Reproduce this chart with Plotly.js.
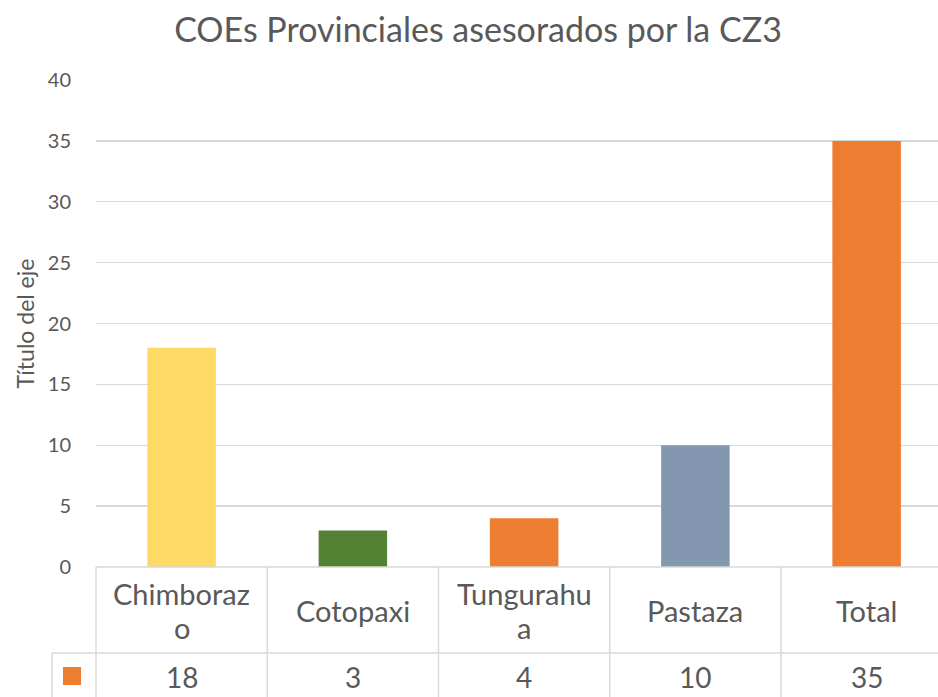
<!DOCTYPE html>
<html>
<head>
<meta charset="utf-8">
<script src="https://cdn.plot.ly/plotly-3.0.1.min.js"></script>
<style>html,body{margin:0;padding:0;background:#fff;}#chart{width:938px;height:697px;}</style>
</head>
<body>
<div id="chart"></div>
<script>
// Data
const categories = ["Chimborazo", "Cotopaxi", "Tungurahua", "Pastaza", "Total"];
const tableLabels = ["Chimboraz<br>o", "Cotopaxi", "Tungurahu<br>a", "Pastaza", "Total"];
const values = [18, 3, 4, 10, 35];
const barColors = ["#FFD966", "#548235", "#ED7D31", "#8497B0", "#ED7D31"];
const yTicks = [0, 5, 10, 15, 20, 25, 30, 35, 40];

// Layout geometry (pixels)
const W = 938, H = 697;
const L = 96, T = 80, B = 130;
const colW = 171.25;
const plotW = W - L, plotH = H - T - B;
const xMin = -0.5, xMax = -0.5 + plotW / colW;
const font = "Lato, 'Open Sans', sans-serif";
const txt = "#595959", grid = "#D9D9D9";

function px2paperX(px) { return (px - L) / plotW; }
function px2paperY(py) { return (H - B - py) / plotH; }
function data2paperX(v) { return (v - xMin) / (xMax - xMin); }

const shapes = [];
const lineStyle = {color: grid, width: 1.5};
// horizontal lines
shapes.push({type: 'line', xref: 'paper', yref: 'paper', x0: 0, x1: 1, y0: px2paperY(567), y1: px2paperY(567), line: lineStyle});
shapes.push({type: 'line', xref: 'paper', yref: 'paper', x0: px2paperX(52), x1: 1, y0: px2paperY(653), y1: px2paperY(653), line: lineStyle});
// vertical lines
shapes.push({type: 'line', xref: 'paper', yref: 'paper', x0: px2paperX(52), x1: px2paperX(52), y0: px2paperY(653), y1: px2paperY(H), line: lineStyle});
for (let i = 0; i < categories.length; i++) {
  const xp = data2paperX(i - 0.5);
  shapes.push({type: 'line', xref: 'paper', yref: 'paper', x0: xp, x1: xp, y0: px2paperY(567), y1: px2paperY(H), line: lineStyle});
}
// legend key
shapes.push({type: 'rect', xref: 'paper', yref: 'paper', x0: px2paperX(63), x1: px2paperX(81), y0: px2paperY(685), y1: px2paperY(667), fillcolor: "#ED7D31", line: {width: 0}});

const annotations = [];
const tfont = {family: font, size: 29, color: txt};
for (let i = 0; i < categories.length; i++) {
  const parts = tableLabels[i].split("<br>");
  if (parts.length === 1) {
    annotations.push({xref: 'x', yref: 'paper', x: i, y: px2paperY(610), text: parts[0], showarrow: false, xanchor: 'center', yanchor: 'middle', font: tfont});
  } else {
    annotations.push({xref: 'x', yref: 'paper', x: i, y: px2paperY(593), text: parts[0], showarrow: false, xanchor: 'center', yanchor: 'middle', font: tfont});
    annotations.push({xref: 'x', yref: 'paper', x: i, y: px2paperY(627), text: parts[1], showarrow: false, xanchor: 'center', yanchor: 'middle', font: tfont});
  }
  annotations.push({xref: 'x', yref: 'paper', x: i, y: px2paperY(677), text: String(values[i]), showarrow: false, xanchor: 'center', yanchor: 'middle', font: {family: font, size: 28, color: txt}});
}

const trace = {
  type: 'bar',
  x: [0, 1, 2, 3, 4],
  y: values,
  width: 0.4,
  marker: {color: barColors, line: {width: 0}},
  hoverinfo: 'skip',
  cliponaxis: false
};

const layout = {
  width: W, height: H,
  margin: {l: L, r: 0, t: T, b: B, pad: 0},
  paper_bgcolor: '#fff', plot_bgcolor: '#fff',
  showlegend: false,
  font: {family: font, color: txt},
  title: {text: "COEs Provinciales asesorados por la CZ3", x: 478 / W, xref: 'container', xanchor: 'center', y: 1 - 30 / H, yref: 'container', yanchor: 'middle', font: {family: font, size: 34, color: txt}},
  xaxis: {range: [xMin, xMax], showticklabels: false, showgrid: false, zeroline: false, showline: false, ticks: '', fixedrange: true},
  yaxis: {range: [0, 40], tickvals: yTicks, ticktext: yTicks.map(String), showgrid: true, gridcolor: grid, gridwidth: 1.3, zeroline: false, showline: false,
          ticks: 'outside', ticklen: 20, tickcolor: 'rgba(0,0,0,0)', tickfont: {family: font, size: 20, color: txt},
          title: {text: "Título del eje", font: {family: font, size: 23, color: txt}, standoff: 6}},
  shapes: shapes,
  annotations: annotations,
  bargap: 0.6
};

Plotly.newPlot('chart', [trace], layout, {staticPlot: true, displayModeBar: false});
</script>
</body>
</html>
